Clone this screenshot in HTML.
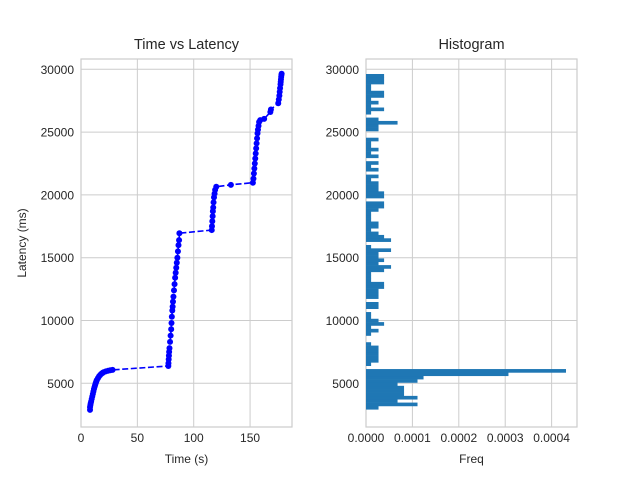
<!DOCTYPE html>
<html><head><meta charset="utf-8"><style>
html,body{margin:0;padding:0;background:#fff;}
svg{display:block;font-family:"Liberation Sans",Arial,sans-serif;}
</style></head><body>
<svg id="chart" width="640" height="480" xmlns="http://www.w3.org/2000/svg"></svg>
<script>
const times=[8,8,8.3,8.6,9,9.5,10,10.5,11,11.5,12,12.5,13,13.5,14,15,16,17,18,19,20,22,24,26,28,77.5,77.6,77.8,78,78.2,78.5,79,79.5,80,80.3,80.6,81,81.3,81.6,82,82.5,83,83.5,84,84.5,85,85.5,86,86.5,87,87.3,116,116.2,116.5,116.8,117,117.3,117.6,118,118.5,119,120,133,152.5,153,153.4,153.8,154.2,154.6,155,155.4,155.8,156.2,156.6,157,157.5,158,159,162.5,168,168.5,175,175.5,176,176.3,176.6,177,177.2,177.4,177.6,177.8,178];
const latency=[2880,3100,3250,3400,3550,3750,3950,4150,4350,4550,4700,4850,5000,5120,5250,5400,5550,5660,5750,5820,5880,5950,6000,6040,6070,6380,6600,6900,7200,7500,7800,8300,8800,9300,9800,10300,10800,11100,11500,11900,12400,12900,13400,13800,14200,14600,15000,15500,16000,16400,16950,17200,17500,17900,18300,18700,19000,19400,19800,20100,20400,20650,20800,20970,21300,21700,22100,22500,22900,23300,23700,24100,24500,24900,25200,25500,25800,25950,26050,26600,26800,27300,27600,27900,28200,28500,28800,29000,29200,29400,29550,29650];
const histLo=2930, histHi=29626;
const histDensity=[2.7,11.1,6.8,11.1,8.2,8.2,8.2,6.8,11.1,12.4,30.7,43.1,0,1.1,2.7,2.7,2.7,2.7,2.7,1.1,0,0,1.1,2.7,1.1,3.9,2.7,1.1,1.1,0,2.7,2.7,0,2.7,2.7,2.7,3.9,3.9,1.1,1.1,1.1,3.9,5.4,2.7,3.9,2.7,2.7,5.4,1.1,0,5.4,3.9,2.7,1.1,2.7,2.7,1.1,1.1,1.1,2.7,3.9,3.9,0,3.9,3.9,2.7,2.7,2.7,1.1,2.7,0,2.7,1.1,2.7,0,2.7,1.1,2.7,1.1,1.1,2.7,0,0,2.7,2.7,6.8,2.7,0,1.1,3.9,1.1,2.7,1.1,3.9,3.9,1.1,1.1,3.9,3.9,3.9];
const yTicks=[5000,10000,15000,20000,25000,30000];
const xTicksL=[0,50,100,150];
const xTicksR=[0,0.0001,0.0002,0.0003,0.0004];

const NS="http://www.w3.org/2000/svg";
const svg=document.getElementById('chart');
function el(tag,attrs,parent){const e=document.createElementNS(NS,tag);for(const k in attrs)e.setAttribute(k,attrs[k]);(parent||svg).appendChild(e);return e;}
const yTop=59,yBot=427,yMin=1520,yMax=30820;
const Y=v=>yBot-(v-yMin)/(yMax-yMin)*(yBot-yTop);
const L={x0:81,x1:292,min:0,max:187.2};
const R={x0:366,x1:577,min:0,max:0.0004547};
const XL=v=>L.x0+(v-L.min)/(L.max-L.min)*(L.x1-L.x0);
const XR=v=>R.x0+(v-R.min)/(R.max-R.min)*(R.x1-R.x0);

function axes(ax,X,xt,fmt,title,xlabel,name){
  const g=el('g',{});
  
  
  for(const v of xt){const l=el('line',{x1:X(v),x2:X(v),y1:yTop,y2:yBot,stroke:'#cccccc','stroke-width':1},g);
    
    
    const t=el('text',{x:X(v),y:442,'text-anchor':'middle','font-size':12,fill:'#262626'},g);t.textContent=fmt(v);
    
    }
  for(const v of yTicks){const l=el('line',{x1:ax.x0,x2:ax.x1,y1:Y(v),y2:Y(v),stroke:'#cccccc','stroke-width':1},g);
    
    
    const t=el('text',{x:ax.x0-7,y:Y(v)+4.5,'text-anchor':'end','font-size':12,fill:'#262626'},g);t.textContent=v;
    
    }
  const f=el('rect',{x:ax.x0,y:yTop,width:ax.x1-ax.x0,height:yBot-yTop,fill:'none',stroke:'#cccccc','stroke-width':1.2},g);
  
  
  const tt=el('text',{x:(ax.x0+ax.x1)/2,y:49,'text-anchor':'middle','font-size':14.5,fill:'#262626'},g);tt.textContent=title;
  
  
  const xl=el('text',{x:(ax.x0+ax.x1)/2,y:463,'text-anchor':'middle','font-size':12,fill:'#262626'},g);xl.textContent=xlabel;
  
  
  return g;
}
axes(L,XL,xTicksL,v=>String(v),'Time vs Latency','Time (s)','left-axes');
axes(R,XR,xTicksR,v=>v.toFixed(4),'Histogram','Freq','right-axes');
const yl=el('text',{x:0,y:0,transform:'translate(26,243) rotate(-90)','text-anchor':'middle','font-size':12,fill:'#262626'});
yl.textContent='Latency (ms)';



let d='';times.forEach((t,i)=>{d+=(i?'L':'M')+XL(t).toFixed(1)+','+Y(latency[i]).toFixed(1);});
const ln=el('path',{d:d,fill:'none',stroke:'#0000ff','stroke-width':1.6,'stroke-dasharray':'6,2.6'});


times.forEach((t,i)=>{const c=el('circle',{cx:XL(t),cy:Y(latency[i]),r:3,fill:'#0000ff'});
  
  });

const bw=(histHi-histLo)/histDensity.length;
histDensity.forEach((v,i)=>{if(v<=0)return;const y0=histLo+i*bw,y1=y0+bw;
  const r=el('rect',{x:XR(0),y:Y(y1),width:XR(v*1e-5)-XR(0),height:Y(y0)-Y(y1)+0.3,fill:'#1f77b4'});
  
  });
</script>
</body></html>
